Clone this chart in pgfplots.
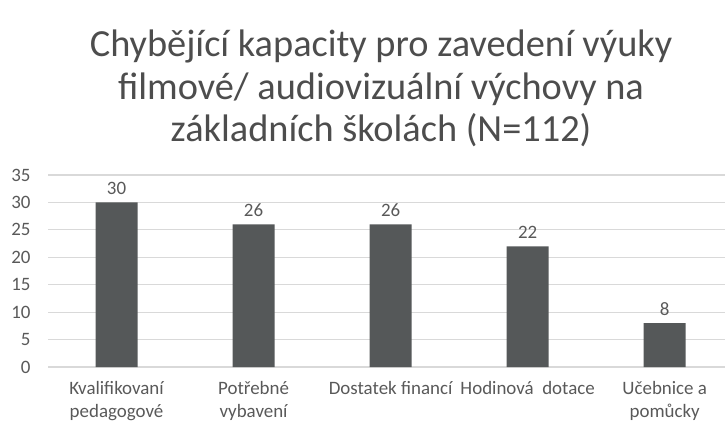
\documentclass[border=0pt]{standalone}
\usepackage{fontspec}
\setmainfont{Carlito}
\usepackage{pgfplots}
\pgfplotsset{compat=1.18}
\definecolor{barcol}{HTML}{555859}
\definecolor{gridcol}{HTML}{D9D9D9}
\definecolor{ticktext}{HTML}{595959}
\definecolor{titletext}{HTML}{4D4D4D}
\begin{document}
\begin{tikzpicture}
\useasboundingbox (0,0) rectangle (725bp,423bp);
\clip (0,0) rectangle (725bp,423bp);
\begin{axis}[
  at={(48bp,56bp)}, anchor=south west,
  scale only axis,
  width=677bp, height=192bp,
  xmin=-0.5, xmax=4.44,
  ymin=0, ymax=35,
  ytick={0,5,...,35},
  xtick={0,1,2,3,4},
  xticklabels={{Kvalifikovaní\\pedagogové},{Potřebné\\vybavení},{Dostatek financí},{Hodinová\ \ dotace},{Učebnice a\\pomůcky}},
  axis line style={draw=none},
  major tick length=0pt,
  ymajorgrids,
  grid style={gridcol, line width=1.2bp},
  /pgf/number format/assume math mode=true,
  yticklabel style={font=\fontsize{19}{22}\selectfont, text=ticktext, anchor=east, xshift=-14bp},
  xticklabel style={font=\fontsize{19}{23}\selectfont, text=ticktext, align=center, anchor=north, yshift=-11bp},
  title={Chybějící kapacity pro zavedení výuky\\filmové/ audiovizuální výchovy na\\základních školách (N=112)},
  title style={at={(axis description cs:0.492,1.42)}, anchor=center, align=center, font=\fontsize{38.5}{43}\selectfont, text=titletext},
  ybar, bar width=42bp,
  nodes near coords,
  nodes near coords style={font=\fontsize{19}{22}\selectfont, text=ticktext, yshift=4bp},
]
\addplot[fill=barcol, draw=none] coordinates {(0,30) (1,26) (2,26) (3,22) (4,8)};
\end{axis}
\end{tikzpicture}
\end{document}
